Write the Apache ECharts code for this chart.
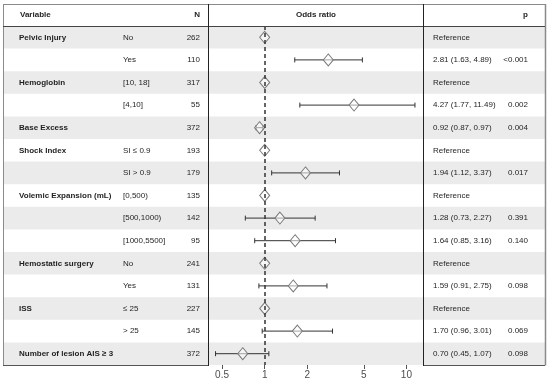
<!DOCTYPE html>
<html>
<head>
<meta charset="utf-8">
<script src="https://cdn.jsdelivr.net/npm/echarts@6/dist/echarts.min.js"></script>
<style>html,body{margin:0;padding:0;background:#fff;}#c{width:550px;height:384px;}</style>
</head>
<body>
<div id="c"></div>
<script>
// ---- data ----
const variables = ['Pelvic Injury', '', 'Hemoglobin', '', 'Base Excess', 'Shock Index', '', 'Volemic Expansion (mL)', '', '', 'Hemostatic surgery', '', 'ISS', '', 'Number of lesion AIS \u2265 3'];
const levels = ['No', 'Yes', '[10, 18]', '[4,10]', '', 'SI \u2264 0.9', 'SI > 0.9', '[0,500)', '[500,1000)', '[1000,5500]', 'No', 'Yes', '\u2264 25', '> 25', ''];
const counts = [262, 110, 317, 55, 372, 193, 179, 135, 142, 95, 241, 131, 227, 145, 372];
const oddsRatio = [1, 2.81, 1, 4.27, 0.92, 1, 1.94, 1, 1.28, 1.64, 1, 1.59, 1, 1.70, 0.70];
const ciLower = [null, 1.63, null, 1.77, 0.87, null, 1.12, null, 0.73, 0.85, null, 0.91, null, 0.96, 0.45];
const ciUpper = [null, 4.89, null, 11.49, 0.97, null, 3.37, null, 2.27, 3.16, null, 2.75, null, 3.01, 1.07];
const pValues = ['', '<0.001', '', '0.002', '0.004', '', '0.017', '', '0.391', '0.140', '', '0.098', '', '0.069', '0.098'];
const tickValues = [0.5, 1, 2, 5, 10];
const headers = ['Variable', 'N', 'Odds ratio', 'p'];

// ---- layout / style ----
const FONT = '"Liberation Sans", Arial, sans-serif';
const TXT = '#1f1f1f';
const STRIPE = '#ebebeb';
const T_LEFT = 3, T_TOP = 4, T_RIGHT = 545, T_BOTTOM = 365, HEAD_B = 26;
const DIV1 = 208.5, DIV2 = 423.5;
const colVar = 16, colLevel = 120, colN = 197, colOR = 430, colP = 525; // offsets from table left

const rowIdx = counts.map((_, i) => String(i));
const orText = oddsRatio.map((v, i) => ciLower[i] == null ? 'Reference'
  : v.toFixed(2) + ' (' + ciLower[i].toFixed(2) + ', ' + ciUpper[i].toFixed(2) + ')');

function txt(text, x, y, align, bold) {
  return { type: 'text', style: { text: text, x: x, y: y, align: align, verticalAlign: 'middle',
    fill: TXT, fontSize: 8, fontFamily: FONT, fontWeight: bold ? 'bold' : 'normal' } };
}

function renderRow(params, api) {
  const i = api.value(1);
  const cs = params.coordSys;
  const y = api.coord([0, i])[1];
  const h = api.size([0, 1])[1];
  const x0 = cs.x;
  const children = [];
  if (i % 2 === 0) {
    children.push({ type: 'rect', shape: { x: cs.x, y: y - h / 2, width: cs.width, height: h },
      style: { fill: STRIPE } });
  }
  children.push(txt(variables[i], x0 + colVar, y, 'left', true));
  children.push(txt(levels[i], x0 + colLevel, y, 'left', false));
  children.push(txt(String(counts[i]), x0 + colN, y, 'right', false));
  children.push(txt(orText[i], x0 + colOR, y, 'left', false));
  children.push(txt(pValues[i], x0 + colP, y, 'right', false));
  return { type: 'group', children: children };
}

function renderCI(params, api) {
  const row = api.value(0);
  const p1 = api.coord([api.value(1), row]);
  const p2 = api.coord([api.value(2), row]);
  const cap = 2.5;
  const st = { stroke: '#333', lineWidth: 1 };
  return { type: 'group', children: [
    { type: 'line', shape: { x1: p1[0], y1: p1[1], x2: p2[0], y2: p2[1] }, style: st },
    { type: 'line', shape: { x1: p1[0], y1: p1[1] - cap, x2: p1[0], y2: p1[1] + cap }, style: st },
    { type: 'line', shape: { x1: p2[0], y1: p2[1] - cap, x2: p2[0], y2: p2[1] + cap }, style: st }
  ] };
}

const ciData = [];
oddsRatio.forEach((v, i) => {
  if (ciLower[i] != null) ciData.push([i, Math.log10(ciLower[i]), Math.log10(ciUpper[i])]);
});
const pointData = oddsRatio.map((v, i) => [Math.log10(v), i]);

const lineCol = '#222', borderCol = '#8a8a8a';
function ln(x1, y1, x2, y2, color, w) {
  return { type: 'line', z: 100, silent: true, shape: { x1: x1, y1: y1, x2: x2, y2: y2 },
    style: { stroke: color, lineWidth: w || 1 } };
}
function htxt(text, x, align) {
  return { type: 'text', z: 100, x: x, y: (T_TOP + HEAD_B) / 2,
    style: { text: text, align: align, verticalAlign: 'middle', fill: TXT, fontSize: 8,
      fontFamily: FONT, fontWeight: 'bold' } };
}

const chart = echarts.init(document.getElementById('c'), null, { renderer: 'canvas' });
chart.setOption({
  animation: false,
  backgroundColor: '#fff',
  textStyle: { fontFamily: FONT },
  grid: [
    { left: T_LEFT, right: 550 - T_RIGHT, top: HEAD_B, bottom: 384 - T_BOTTOM, containLabel: false },
    { left: 208, width: 215, top: HEAD_B, bottom: 384 - T_BOTTOM, containLabel: false }
  ],
  xAxis: [
    { gridIndex: 0, type: 'value', min: 0, max: 1, show: false },
    { gridIndex: 1, type: 'value', min: -0.4, max: 1.117,
      axisLine: { show: false },
      splitLine: { show: false },
      axisTick: { show: true, length: 4, lineStyle: { color: '#555' }, customValues: tickValues.map(Math.log10) },
      axisLabel: { customValues: tickValues.map(Math.log10), color: '#4d4d4d', fontSize: 10, margin: 5,
        fontFamily: FONT,
        formatter: v => String(Number(Math.pow(10, v).toPrecision(6))) } }
  ],
  yAxis: [
    { gridIndex: 0, type: 'category', data: rowIdx, inverse: true, show: false },
    { gridIndex: 1, type: 'category', data: rowIdx, inverse: true, show: false }
  ],
  series: [
    { type: 'custom', xAxisIndex: 0, yAxisIndex: 0, z: 1, silent: true,
      renderItem: renderRow, data: counts.map((_, i) => [0, i]), encode: { x: 0, y: 1 } },
    { type: 'custom', xAxisIndex: 1, yAxisIndex: 1, z: 3, silent: true,
      renderItem: renderCI, data: ciData, encode: { x: [1, 2], y: 0 } },
    { type: 'scatter', xAxisIndex: 1, yAxisIndex: 1, z: 4, silent: true,
      symbol: 'diamond', symbolSize: [10, 12],
      itemStyle: { color: 'rgba(255,255,255,0.55)', borderColor: '#7a7a7a', borderWidth: 1, opacity: 1 },
      data: pointData,
      markLine: { silent: true, symbol: 'none', label: { show: false }, z: 6,
        lineStyle: { type: [4, 3], color: '#333', width: 1.5 },
        data: [{ xAxis: Math.log10(1) }] } }
  ],
  graphic: [
    ln(T_LEFT, T_TOP + 0.5, T_RIGHT, T_TOP + 0.5, borderCol),
    ln(T_LEFT + 0.5, T_TOP, T_LEFT + 0.5, T_BOTTOM, borderCol),
    ln(T_RIGHT + 0.5, T_TOP, T_RIGHT + 0.5, T_BOTTOM + 0.5, borderCol, 1.5),
    ln(T_LEFT, T_BOTTOM + 0.5, DIV1, T_BOTTOM + 0.5, '#555'),
    ln(DIV2, T_BOTTOM + 0.5, T_RIGHT, T_BOTTOM + 0.5, '#555'),
    ln(T_LEFT, HEAD_B + 0.5, T_RIGHT, HEAD_B + 0.5, '#444'),
    ln(DIV1, T_TOP, DIV1, T_BOTTOM + 1, lineCol),
    ln(DIV2, T_TOP, DIV2, T_BOTTOM + 1, lineCol),
    htxt(headers[0], T_LEFT + colVar + 1, 'left'),
    htxt(headers[1], T_LEFT + colN, 'right'),
    htxt(headers[2], (DIV1 + DIV2) / 2, 'center'),
    htxt(headers[3], T_LEFT + colP, 'right')
  ]
});
</script>
</body>
</html>
